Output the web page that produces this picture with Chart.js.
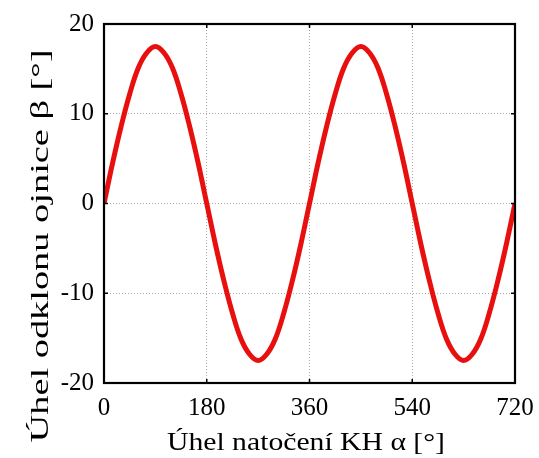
<!DOCTYPE html>
<html>
<head>
<meta charset="utf-8">
<script src="https://cdn.jsdelivr.net/npm/chart.js@4/dist/chart.umd.min.js"></script>
<style>
html,body{margin:0;padding:0;background:#fff;}
#wrap{width:539px;height:458px;}
</style>
</head>
<body>
<div id="wrap"><canvas id="c" width="539" height="458"></canvas></div>
<script>
const crankAngles = [0,15,30,45,60,75,90,105,120,135,150,165,180,195,210,225,240,255,270,285,300,315,330,345,360,375,390,405,420,435,450,465,480,495,510,525,540,555,570,585,600,615,630,645,660,675,690,705,720];
const rodAngles = [0,4.5,8.6,12.2,15.1,16.8,17.5,16.8,15.1,12.2,8.6,4.5,0,-4.5,-8.6,-12.2,-15.1,-16.8,-17.5,-16.8,-15.1,-12.2,-8.6,-4.5,0,4.5,8.6,12.2,15.1,16.8,17.5,16.8,15.1,12.2,8.6,4.5,0,-4.5,-8.6,-12.2,-15.1,-16.8,-17.5,-16.8,-15.1,-12.2,-8.6,-4.5,0];
const xTicks = [0,180,360,540,720];
const yTicks = [-20,-10,0,10,20];
const xTitle = 'Úhel natočení KH α [°]';
const yTitle = 'Úhel odklonu ojnice β [°]';

const points = crankAngles.map((a,i)=>({x:a,y:rodAngles[i]}));

const framePlugin = {
  id:'frame',
  afterDatasetsDraw(chart){
    const {ctx, chartArea:a, scales} = chart;
    ctx.save();
    ctx.strokeStyle='#000';
    ctx.lineWidth=1.5;
    ctx.beginPath();
    xTicks.forEach(v=>{
      const px = scales.x.getPixelForValue(v);
      ctx.moveTo(px,a.bottom); ctx.lineTo(px,a.bottom-4);
      ctx.moveTo(px,a.top); ctx.lineTo(px,a.top+4);
    });
    yTicks.forEach(v=>{
      const py = scales.y.getPixelForValue(v);
      ctx.moveTo(a.left,py); ctx.lineTo(a.left+4,py);
      ctx.moveTo(a.right,py); ctx.lineTo(a.right-4,py);
    });
    ctx.stroke();
    ctx.lineWidth=2.2;
    ctx.strokeRect(a.left,a.top,a.right-a.left,a.bottom-a.top);
    ctx.restore();
  }
};

function stretchedText(ctx, text, cx, baseY, rot, targetW){
  ctx.save();
  ctx.font = '26px "Liberation Serif"';
  ctx.fillStyle = '#000';
  ctx.textAlign = 'center';
  ctx.textBaseline = 'alphabetic';
  const w = ctx.measureText(text).width;
  ctx.translate(cx, baseY);
  ctx.rotate(rot);
  ctx.scale(targetW / w, 1);
  ctx.fillText(text, 0, 0);
  ctx.restore();
}

const titlePlugin = {
  id:'titles',
  afterDraw(chart){
    const ctx = chart.ctx;
    stretchedText(ctx, xTitle, 306, 450, 0, 278);
    stretchedText(ctx, yTitle, 48, 246, -Math.PI/2, 393);
  }
};

new Chart(document.getElementById('c'),{
  type:'line',
  data:{datasets:[{data:points,borderColor:'#e8100f',borderWidth:5,pointRadius:0,tension:0.4,fill:false}]},
  options:{
    responsive:false,
    animation:false,
    events:[],
    layout:{padding:{top:24,right:24,left:0,bottom:0}},
    plugins:{legend:{display:false},tooltip:{enabled:false}},
    scales:{
      x:{
        type:'linear',min:0,max:720,
        afterBuildTicks(s){s.ticks=xTicks.map(v=>({value:v}));},
        afterFit(s){s.height=75;s.paddingLeft=0;s.paddingRight=0;},
        grid:{color:'#aaa',lineWidth:1,drawTicks:false},
        border:{display:false,dash:[1,2]},
        ticks:{color:'#000',font:{family:'Liberation Serif',size:25},padding:10,maxRotation:0},
        title:{display:false,text:xTitle}
      },
      y:{
        type:'linear',min:-20,max:20,
        afterBuildTicks(s){s.ticks=yTicks.map(v=>({value:v}));},
        afterFit(s){s.width=104;s.paddingTop=0;s.paddingBottom=0;},
        grid:{color:'#aaa',lineWidth:1,drawTicks:false},
        border:{display:false,dash:[1,2]},
        ticks:{color:'#000',font:{family:'Liberation Serif',size:25},padding:10},
        title:{display:false,text:yTitle}
      }
    }
  },
  plugins:[framePlugin,titlePlugin]
});
</script>
</body>
</html>
